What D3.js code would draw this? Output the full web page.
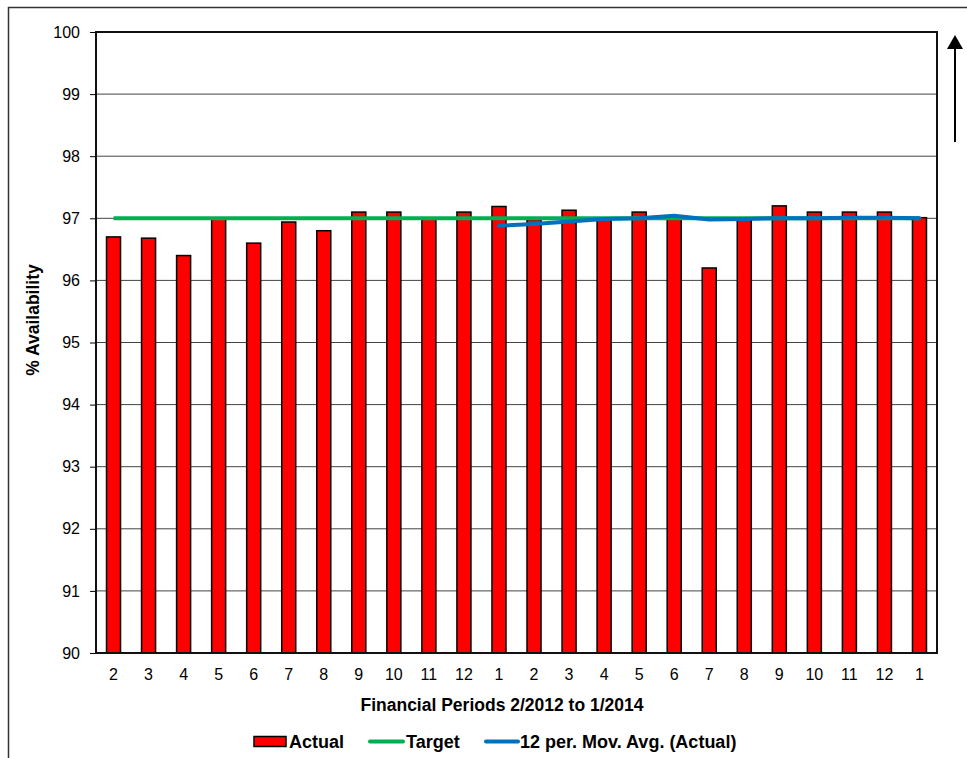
<!DOCTYPE html>
<html>
<head>
<meta charset="utf-8">
<script src="https://cdn.jsdelivr.net/npm/d3@7"></script>
<style>
  html, body { margin: 0; padding: 0; background: #fff; }
  svg { display: block; font-family: Arial, "Liberation Sans", sans-serif; }
</style>
</head>
<body>
<svg id="chart" width="967" height="758"></svg>
<script>
// Financial periods 2/2012 .. 1/2014
const periods = ["2","3","4","5","6","7","8","9","10","11","12","1",
                 "2","3","4","5","6","7","8","9","10","11","12","1"];

// % availability per period
const actual = [96.70, 96.68, 96.40, 97.00, 96.60, 96.94, 96.80, 97.10, 97.10, 97.00, 97.10, 97.19,
                96.98, 97.13, 97.00, 97.10, 97.03, 96.20, 97.00, 97.20, 97.10, 97.10, 97.10, 97.01];

// Target level
const target = [97, 97, 97, 97, 97, 97, 97, 97, 97, 97, 97, 97,
                97, 97, 97, 97, 97, 97, 97, 97, 97, 97, 97, 97];

// 12-period moving average of Actual (first 11 periods have no value)
const movAvg = [null, null, null, null, null, null, null, null, null, null, null, 96.88,
                96.91, 96.95, 96.99, 97.00, 97.04, 96.98, 96.99, 97.00, 97.00, 97.01, 97.01, 97.00];

const yTicks = [90, 91, 92, 93, 94, 95, 96, 97, 98, 99, 100];

const svg = d3.select("#chart");
const plot = { left: 96, right: 937, top: 32, bottom: 653 };

// Outer chart frame (extends past the right and bottom edges)
svg.append("rect")
  .attr("x", 8.5).attr("y", 7.5)
  .attr("width", 1100).attr("height", 900)
  .attr("fill", "none").attr("stroke", "#333").attr("stroke-width", 1.5);

const idx = d3.range(periods.length);
const x = d3.scaleBand().domain(idx).range([plot.left, plot.right]).paddingInner(0.6).paddingOuter(0.3);
const y = d3.scaleLinear().domain([90, 100]).range([plot.bottom, plot.top]);
const cx = i => x(i) + x.bandwidth() / 2;

// Horizontal gridlines
svg.append("g").selectAll("line")
  .data(yTicks.filter(t => t > 90 && t < 100))
  .join("line")
  .attr("x1", plot.left).attr("x2", plot.right)
  .attr("y1", d => y(d)).attr("y2", d => y(d))
  .attr("stroke", "#444").attr("stroke-width", 1);

// Y axis
const yAxis = svg.append("g")
  .attr("transform", `translate(${plot.left},0)`)
  .call(d3.axisLeft(y).tickValues(yTicks).tickSize(6).tickPadding(10).tickFormat(d3.format("d")));
yAxis.select(".domain").remove();
yAxis.selectAll(".tick line").attr("stroke", "#000");
yAxis.selectAll("text").attr("font-size", 16).attr("fill", "#000")
  .attr("font-family", "Arial, 'Liberation Sans', sans-serif");

// X axis labels
const xAxis = svg.append("g")
  .attr("transform", `translate(0,${plot.bottom})`)
  .call(d3.axisBottom(x).tickSize(0).tickPadding(16).tickFormat(i => periods[i]));
xAxis.select(".domain").remove();
xAxis.selectAll("text").attr("font-size", 16).attr("fill", "#000")
  .attr("font-family", "Arial, 'Liberation Sans', sans-serif");

// Bars
svg.append("g").selectAll("rect")
  .data(actual)
  .join("rect")
  .attr("x", (d, i) => x(i))
  .attr("width", x.bandwidth())
  .attr("y", d => y(d))
  .attr("height", d => y(90) - y(d))
  .attr("fill", "#ff0000")
  .attr("stroke", "#000")
  .attr("stroke-width", 1.5);

// Plot frame
svg.append("rect")
  .attr("x", plot.left).attr("y", plot.top)
  .attr("width", plot.right - plot.left).attr("height", plot.bottom - plot.top)
  .attr("fill", "none").attr("stroke", "#111").attr("stroke-width", 2);

// Target line
const line = d3.line().defined(d => d[1] != null).x(d => cx(d[0])).y(d => y(d[1]));
svg.append("path")
  .datum(target.map((v, i) => [i, v]))
  .attr("d", line)
  .attr("fill", "none").attr("stroke", "#00b050").attr("stroke-width", 4);

// Moving average line
svg.append("path")
  .datum(movAvg.map((v, i) => [i, v]))
  .attr("d", line)
  .attr("fill", "none").attr("stroke", "#0070c0").attr("stroke-width", 4)
  .attr("stroke-linecap", "round").attr("stroke-linejoin", "round");

// Axis titles
svg.append("text")
  .attr("transform", "translate(39,320) rotate(-90)")
  .attr("text-anchor", "middle")
  .attr("font-size", 17.5).attr("font-weight", "bold")
  .text("% Availability");

svg.append("text")
  .attr("x", 502).attr("y", 711)
  .attr("text-anchor", "middle")
  .attr("font-size", 17.5).attr("font-weight", "bold")
  .text("Financial Periods 2/2012 to 1/2014");

// Upward arrow at the right
svg.append("line")
  .attr("x1", 955).attr("x2", 955).attr("y1", 48).attr("y2", 142)
  .attr("stroke", "#000").attr("stroke-width", 2);
svg.append("path")
  .attr("d", "M947,49 L963,49 L955,35 Z")
  .attr("fill", "#000");

// Legend
const lg = svg.append("g").attr("font-size", 18).attr("font-weight", "bold");
lg.append("rect").attr("x", 254).attr("y", 736.5).attr("width", 32).attr("height", 10)
  .attr("fill", "#ff0000").attr("stroke", "#000").attr("stroke-width", 1.5);
lg.append("text").attr("x", 289).attr("y", 748).text("Actual");
lg.append("line").attr("x1", 370).attr("x2", 403).attr("y1", 741.5).attr("y2", 741.5)
  .attr("stroke", "#00b050").attr("stroke-width", 4).attr("stroke-linecap", "round");
lg.append("text").attr("x", 406).attr("y", 748).text("Target");
lg.append("line").attr("x1", 486).attr("x2", 518).attr("y1", 741.5).attr("y2", 741.5)
  .attr("stroke", "#0070c0").attr("stroke-width", 4).attr("stroke-linecap", "round");
lg.append("text").attr("x", 520).attr("y", 748).text("12 per. Mov. Avg. (Actual)");
</script>
</body>
</html>
